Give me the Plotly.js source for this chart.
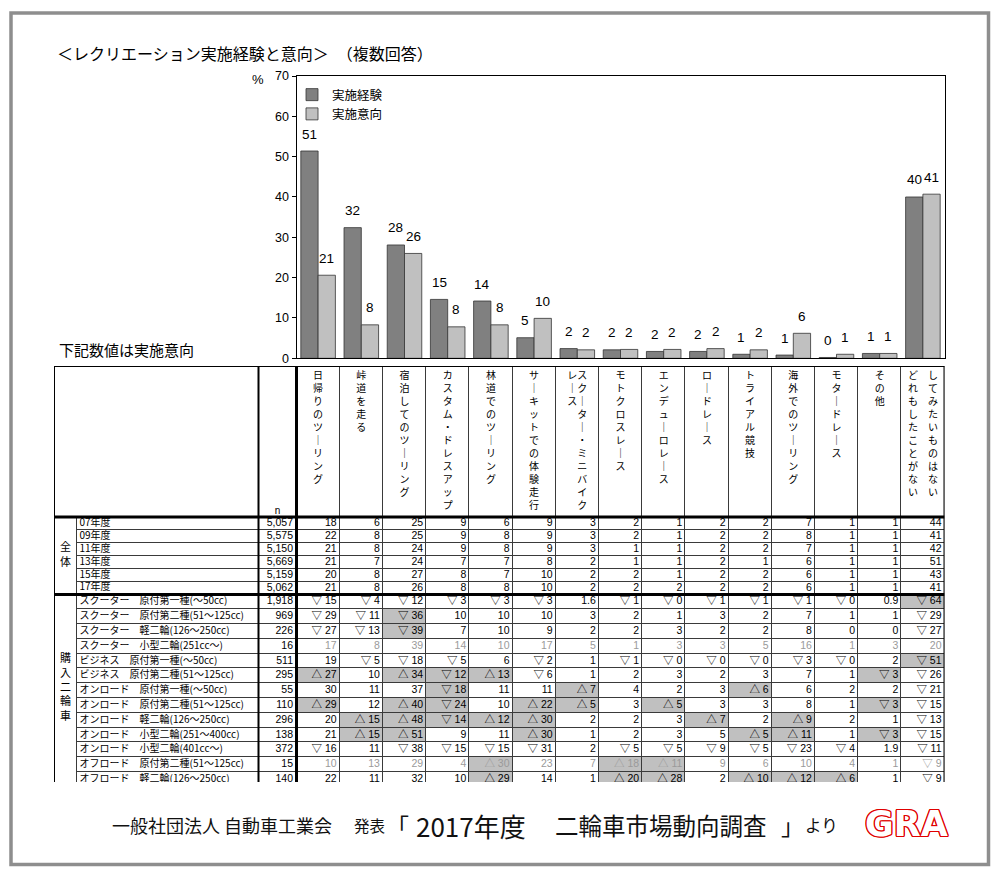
<!DOCTYPE html>
<html><head><meta charset="utf-8">
<script src="https://cdn.plot.ly/plotly-3.0.1.min.js"></script>
<style>html,body{margin:0;padding:0;background:#fff}#chart{width:1000px;height:879px}</style>
</head><body><div id="chart"></div>
<script>
// ================= DATA =================
const categories = ['日帰りのツーリング','峠道を走る','宿泊してのツーリング','カスタム・ドレスアップ','林道でのツーリング',
  'サーキットでの体験走行','スクーター・ミニバイクレース','モトクロスレース','エンデューロレース','ロードレース',
  'トライアル競技','海外でのツーリング','モタードレース','その他','してみたいものはない・どれもしたことがない'];
// header text columns (vertical writing, right column first), optional gap between the two columns
const headerCols = [['日帰りのツーリング'],['峠道を走る'],['宿泊してのツーリング'],['カスタム・ドレスアップ'],['林道でのツーリング'],
  ['サーキットでの体験走行'],['スクーター・ミニバイク','レース',''],['モトクロスレース'],['エンデューロレース'],['ロードレース'],
  ['トライアル競技'],['海外でのツーリング'],['モタードレース'],['その他'],['してみたいものはない','どれもしたことがない','　']];
const experience = [51.4, 32.4, 28.1, 14.6, 14.2, 5.1, 2.4, 2.1, 1.7, 1.7, 1.0, 0.8, 0.2, 1.2, 40.0];
const intention  = [20.6, 8.3, 26.0, 7.8, 8.3, 9.9, 2.1, 2.2, 2.2, 2.4, 2.1, 6.2, 1.0, 1.2, 40.7];
const seriesNames = ['実施経験','実施意向'];

const groupNames = ['全体','購入二輪車'];
const yearLabels = ['07年度','09年度','11年度','13年度','15年度','17年度'];
const yearN = [5057, 5575, 5150, 5669, 5159, 5062];
const yearValues = [
  [18,6,25,9,6,9,3,2,1,2,2,7,1,1,44],
  [22,8,25,9,8,9,3,2,1,2,2,8,1,1,41],
  [21,8,24,9,8,9,3,1,1,2,2,7,1,1,42],
  [21,7,24,7,7,8,2,1,1,2,1,6,1,1,51],
  [20,8,27,8,7,10,2,2,1,2,2,6,1,1,43],
  [21,8,26,8,8,10,2,2,2,2,2,6,1,1,41]
];
const bikeLabels = ['スクーター　原付第一種(～50cc)','スクーター　原付第二種(51～125cc)','スクーター　軽二輪(126～250cc)',
  'スクーター　小型二輪(251cc～)','ビジネス　原付第一種(～50cc)','ビジネス　原付第二種(51～125cc)',
  'オンロード　原付第一種(～50cc)','オンロード　原付第二種(51～125cc)','オンロード　軽二輪(126～250cc)',
  'オンロード　小型二輪(251～400cc)','オンロード　小型二輪(401cc～)','オフロード　原付第二種(51～125cc)',
  'オフロード　軽二輪(126～250cc)'];
const bikeN = [1918, 969, 226, 16, 511, 295, 55, 110, 296, 138, 372, 15, 140];
const bikeValues = [
  ['▽15','▽4','▽12','▽3','▽3','▽3','1.6','▽1','▽0','▽1','▽1','▽1','▽0','0.9','▽64'],
  ['▽29','▽11','▽36','10','10','10','3','2','1','3','2','7','1','1','▽29'],
  ['▽27','▽13','▽39','7','10','9','2','2','3','2','2','8','0','0','▽27'],
  ['17','8','39','14','10','17','5','1','3','3','5','16','1','3','20'],
  ['19','▽5','▽18','▽5','6','▽2','1','▽1','▽0','▽0','▽0','▽3','▽0','2','▽51'],
  ['△27','10','△34','▽12','△13','▽6','1','2','3','2','3','7','1','▽3','▽26'],
  ['30','11','37','▽18','11','11','△7','4','2','3','△6','6','2','2','▽21'],
  ['△29','12','△40','▽24','10','△22','△5','3','△5','3','3','8','1','▽3','▽15'],
  ['20','△15','△48','▽14','△12','△30','2','2','3','△7','2','△9','2','1','▽13'],
  ['21','△15','△51','9','11','△30','1','2','3','5','△5','△11','1','▽3','▽15'],
  ['▽16','11','▽38','▽15','▽15','▽31','2','▽5','▽5','▽9','▽5','▽23','▽4','1.9','▽11'],
  ['10','13','29','4','△30','23','7','△18','△11','9','6','10','4','1','▽9'],
  ['22','11','32','10','△29','14','1','△20','△28','2','△10','△12','△6','1','▽9']
];
// highlighted (shaded) columns per row, 1-based
const bikeHighlightCols = [[15],[3],[3],[],[15],[1,3,4,5,14],[4,7,11],[1,3,4,6,7,9,14],[2,3,4,5,6,10,12],[2,3,6,11,12,14],[],[5,8,9],[5,8,9,11,12,13]];

// ================= LAYOUT GEOMETRY =================
const CFG = {
  W: 1000, H: 879,
  plot: {l: 296.5, r: 944.5, t: 76, b: 358.3},
  tbl: {l: 54, r: 944.5, t: 366, b: 782},
  groupColW: 23, labelColW: 181.5, nColW: 38,
  headerH: 151, row1H: 12.9, row2H: 14.8,
  bargap: 0.2
};
const px2x = p => p / CFG.W;
const px2y = p => 1 - p / CFG.H;
const JP = 'Noto Sans CJK JP';
const NUM = 'Liberation Sans, Arial, Noto Sans CJK JP';

const nCols = categories.length;
const dataColW = (CFG.tbl.r - CFG.tbl.l - CFG.groupColW - CFG.labelColW - CFG.nColW) / nCols;
const xe = [CFG.tbl.l];
[CFG.groupColW, CFG.labelColW, CFG.nColW].concat(Array(nCols).fill(dataColW)).forEach(w => xe.push(xe[xe.length - 1] + w));
const headTop = CFG.tbl.t, headBot = headTop + CFG.headerH;
const ye = [headBot];
yearLabels.forEach(() => ye.push(ye[ye.length - 1] + CFG.row1H));
const g1Bot = ye[ye.length - 1];
bikeLabels.forEach(() => ye.push(ye[ye.length - 1] + CFG.row2H));
const g2Bot = ye[ye.length - 1];
const rowMid = ye.slice(0, -1).map((y, i) => (y + ye[i + 1]) / 2);

// rows combined
const fmtN = n => n.toLocaleString('en-US');
const allLabels = yearLabels.concat(bikeLabels);
const allN = yearN.concat(bikeN);
const allVals = yearValues.map(r => r.map(String)).concat(bikeValues);
const allHL = yearValues.map(() => Array(nCols).fill(0)).concat(
  bikeHighlightCols.map(cols => { const a = Array(nCols).fill(0); cols.forEach(c => a[c - 1] = 1); return a; }));
const fmtCell = s => s.replace(/^([▽△])/, '$1 ');

// ================= TRACES =================
const traces = [];
traces.push({type: 'bar', name: seriesNames[0], x: categories, y: experience, xaxis: 'x', yaxis: 'y',
  marker: {color: '#808080', line: {color: '#333', width: 0.8}}, hoverinfo: 'skip'});
traces.push({type: 'bar', name: seriesNames[1], x: categories, y: intention, xaxis: 'x', yaxis: 'y',
  marker: {color: '#c0c0c0', line: {color: '#333', width: 0.8}}, hoverinfo: 'skip'});

const hmBase = {type: 'heatmap', xaxis: 'x2', yaxis: 'y2', colorscale: [[0, '#ffffff'], [1, '#c0c0c0']],
  zmin: 0, zmax: 1, showscale: false, xgap: 1, ygap: 1, hoverinfo: 'skip', showlegend: false};
// header row (left header cell merged over group+label columns)
traces.push(Object.assign({}, hmBase, {x: [xe[0]].concat(xe.slice(2)), y: [headTop, headBot],
  z: [Array(nCols + 2).fill(0)]}));
// group column (merged cells)
traces.push(Object.assign({}, hmBase, {x: [xe[0], xe[1]], y: [headBot, g1Bot, g2Bot], z: [[0], [0]]}));
// body
traces.push(Object.assign({}, hmBase, {x: xe.slice(1), y: ye, z: allHL.map(r => [0, 0].concat(r))}));

// header text (vertical)
const vert = s => Array.from(s).map(ch => ch === 'ー' ? '｜' : ch);
const headerText = headerCols.map(hc => {
  const right = vert(hc[0]);
  if (hc.length === 1) return right.join('<br>');
  const left = vert(hc[1]), gap = hc[2] || '';
  const n = Math.max(right.length, left.length);
  const lines = [];
  for (let i = 0; i < n; i++) lines.push((left[i] || '　') + gap + (right[i] || '　'));
  return lines.join('<br>');
});
traces.push({type: 'scatter', mode: 'text', xaxis: 'x2', yaxis: 'y2', showlegend: false, hoverinfo: 'skip',
  x: categories.map((c, i) => (xe[3 + i] + xe[4 + i]) / 2), y: categories.map(() => headTop + 5),
  text: headerText, textposition: 'bottom center', textfont: {family: JP, size: 10, color: '#000'}});
traces.push({type: 'scatter', mode: 'text', xaxis: 'x2', yaxis: 'y2', showlegend: false, hoverinfo: 'skip',
  x: [(xe[2] + xe[3]) / 2], y: [headBot - 1], text: ['n'], textposition: 'top center',
  textfont: {family: NUM, size: 10, color: '#000'}});
// group names
traces.push({type: 'scatter', mode: 'text', xaxis: 'x2', yaxis: 'y2', showlegend: false, hoverinfo: 'skip',
  x: [(xe[0] + xe[1]) / 2, (xe[0] + xe[1]) / 2], y: [(headBot + g1Bot) / 2, (g1Bot + CFG.tbl.b) / 2],
  text: groupNames.map(g => Array.from(g).join('<br>')), textposition: 'middle center',
  textfont: {family: JP, size: 11, color: '#000'}});
// row labels
traces.push({type: 'scatter', mode: 'text', xaxis: 'x2', yaxis: 'y2', showlegend: false, hoverinfo: 'skip',
  x: allLabels.map(() => xe[1] + 2.5), y: rowMid, text: allLabels, textposition: 'middle right',
  textfont: {family: JP, size: 10, color: '#000'}});
// n column
traces.push({type: 'scatter', mode: 'text', xaxis: 'x2', yaxis: 'y2', showlegend: false, hoverinfo: 'skip',
  x: allN.map(() => xe[3] - 3.5), y: rowMid, text: allN.map(fmtN), textposition: 'middle left',
  textfont: {family: NUM, size: 10.5, color: '#000'}});
// data cells
const cx = [], cy = [], ct = [], cc = [];
allVals.forEach((row, r) => row.forEach((v, c) => {
  cx.push(xe[4 + c] - 3); cy.push(rowMid[r]); ct.push(fmtCell(v));
  cc.push(allN[r] < 30 ? '#9a9a9a' : '#000');
}));
traces.push({type: 'scatter', mode: 'text', xaxis: 'x2', yaxis: 'y2', showlegend: false, hoverinfo: 'skip',
  x: cx, y: cy, text: ct, textposition: 'middle left', textfont: {family: NUM, size: 10.5, color: cc}});

// ================= ANNOTATIONS =================
const ann = [];
const off = (1 - CFG.bargap) / 4;
[experience, intention].forEach((arr, s) => arr.forEach((v, i) => {
  ann.push({xref: 'x', yref: 'y', x: i + (s === 0 ? -off : off), y: v, yshift: 17, showarrow: false,
    xanchor: 'center', yanchor: 'middle',
    text: String(Math.round(v)), font: {family: NUM, size: 13.5, color: '#000'}});
}));
ann.push({xref: 'paper', yref: 'paper', x: px2x(258), xanchor: 'center', y: px2y(79), yanchor: 'middle',
  text: '%', showarrow: false, font: {family: NUM, size: 13, color: '#000'}});
ann.push({xref: 'paper', yref: 'paper', x: px2x(57), xanchor: 'left', y: px2y(349), yanchor: 'middle',
  text: '下記数値は実施意向', showarrow: false, font: {family: JP, size: 15, color: '#000'}});
const foot = [
  ['一般社団法人 自動車工業会', 110, 18],
  ['発表', 352, 15.5],
  ['「', 384, 23],
  ['2017年度', 414, 26],
  ['二輪車市場動向調査', 553, 23.5],
  ['」', 779, 23],
  ['より', 803, 16.5]
];
foot.forEach(f => ann.push({xref: 'paper', yref: 'paper', x: px2x(f[1]), xanchor: 'left', y: px2y(825),
  yanchor: 'middle', text: f[0], showarrow: false, font: {family: JP, size: f[2], color: '#111'}}));
ann.push({xref: 'paper', yref: 'paper', x: px2x(863), xanchor: 'left', y: px2y(824), yanchor: 'middle',
  text: 'GRA', showarrow: false,
  font: {family: 'DejaVu Sans', size: 35, weight: 'bold', color: '#ffffff',
    shadow: '1.2px 0 #e00000, -1.2px 0 #e00000, 0 1.2px #e00000, 0 -1.2px #e00000, 1px 1px #e00000, -1px -1px #e00000, 1px -1px #e00000, -1px 1px #e00000'}});

// ================= SHAPES =================
const L = (x0, y0, x1, y1, w) => ({type: 'line', xref: 'x2', yref: 'y2', x0, y0, x1, y1, layer: 'above',
  line: {color: '#000', width: w}});
const shapes = [
  {type: 'rect', xref: 'x2', yref: 'y2', x0: xe[0], x1: xe[xe.length - 1], y0: headTop, y1: g2Bot,
    fillcolor: '#3a3a3a', line: {width: 0}, layer: 'below'},
  L(xe[0], headTop, xe[xe.length - 1], headTop, 2),
  L(xe[0], headTop, xe[0], g2Bot, 2),
  L(xe[xe.length - 1], headTop, xe[xe.length - 1], g2Bot, 2),
  L(xe[0], headBot, xe[xe.length - 1], headBot, 3),
  L(xe[0], g1Bot, xe[xe.length - 1], g1Bot, 3),
  L(xe[2], headTop, xe[2], g2Bot, 2),
  L(xe[3], headTop, xe[3], g2Bot, 3),
  {type: 'rect', xref: 'paper', yref: 'paper', x0: px2x(11), x1: px2x(988.5), y0: px2y(864.5), y1: px2y(13),
    line: {color: '#8e8e8e', width: 3.5}, fillcolor: 'rgba(0,0,0,0)'}
];

// ================= LAYOUT =================
const layout = {
  width: CFG.W, height: CFG.H, margin: {l: 0, r: 0, t: 0, b: 0},
  paper_bgcolor: '#fff', plot_bgcolor: '#fff',
  font: {family: JP, color: '#000'},
  title: {text: '＜レクリエーション実施経験と意向＞　（複数回答）', x: px2x(57), xanchor: 'left',
    y: px2y(54), yanchor: 'middle', font: {family: JP, size: 16, color: '#000'}},
  barmode: 'group', bargap: CFG.bargap, bargroupgap: 0,
  showlegend: true,
  legend: {x: 0.292, y: px2y(80), xanchor: 'left', yanchor: 'top', bgcolor: 'rgba(0,0,0,0)',
    font: {family: JP, size: 12.5, color: '#000'}, traceorder: 'normal'},
  xaxis: {domain: [px2x(CFG.plot.l), px2x(CFG.plot.r)], anchor: 'y', showticklabels: false, ticks: '',
    showline: true, linecolor: '#000', linewidth: 1, mirror: true, showgrid: false, zeroline: false, fixedrange: true},
  yaxis: {domain: [px2y(CFG.plot.b), px2y(CFG.plot.t)], anchor: 'x', range: [0, 70], dtick: 10,
    ticks: 'outside', ticklen: 4, tickcolor: '#000', showline: true, linecolor: '#000', linewidth: 1, mirror: true,
    showgrid: false, zeroline: false, tickfont: {family: NUM, size: 12.5, color: '#000'}, fixedrange: true},
  xaxis2: {domain: [px2x(CFG.tbl.l), px2x(CFG.tbl.r)], anchor: 'y2', range: [CFG.tbl.l, CFG.tbl.r],
    visible: false, fixedrange: true},
  yaxis2: {domain: [px2y(CFG.tbl.b), px2y(CFG.tbl.t)], anchor: 'x2', range: [CFG.tbl.b, CFG.tbl.t],
    visible: false, fixedrange: true},
  annotations: ann,
  shapes: shapes
};
Plotly.newPlot('chart', traces, layout, {staticPlot: true, displayModeBar: false});
</script></body></html>
